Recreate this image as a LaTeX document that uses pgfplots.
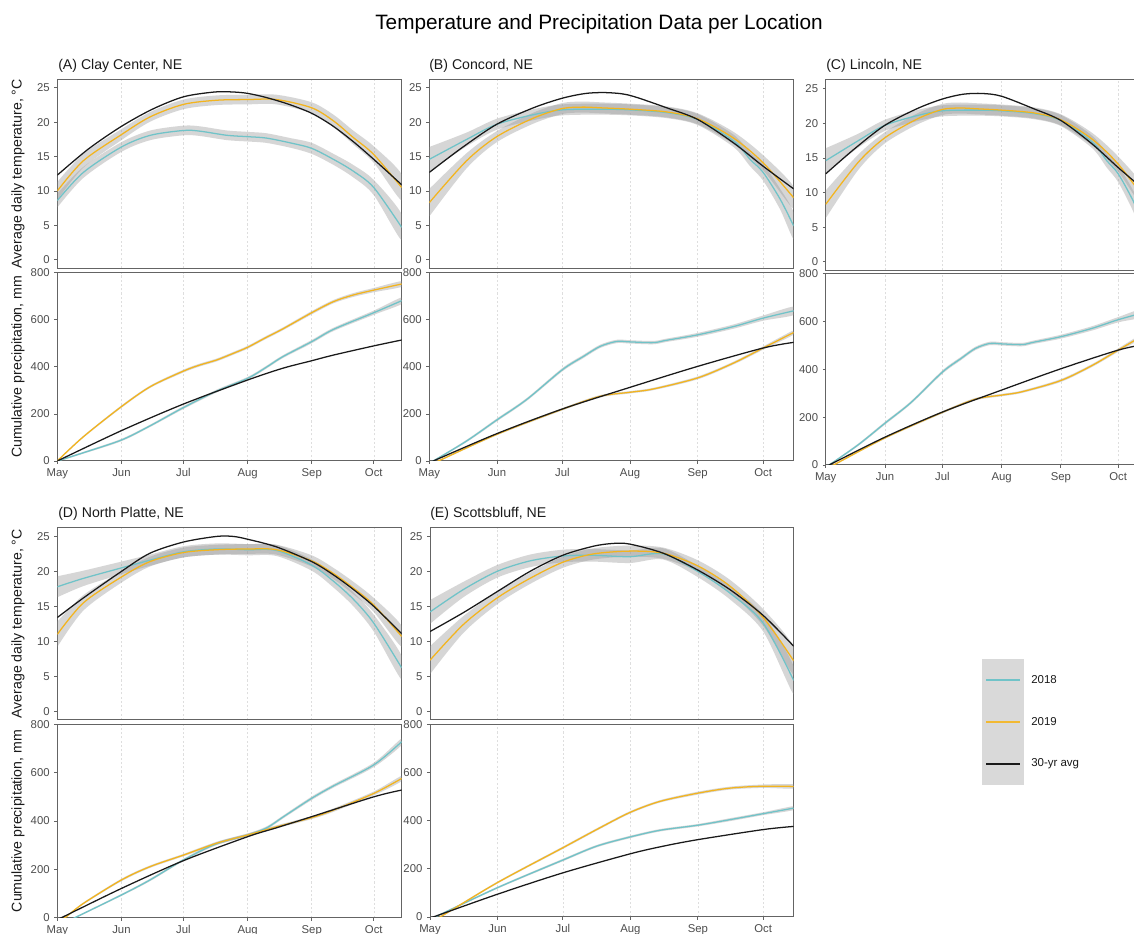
\documentclass[border=0pt]{standalone}
\usepackage{fontspec}
\setmainfont{Liberation Sans}
\usepackage{pgfplots}
\pgfplotsset{compat=1.18}
\usepackage{pgfplotstable}

\definecolor{c18}{RGB}{112,195,200}
\definecolor{c19}{RGB}{243,180,30}
\definecolor{legorange}{RGB}{242,185,50}
\definecolor{c30}{RGB}{26,26,26}
\definecolor{framec}{RGB}{100,100,100}
\definecolor{tickc}{RGB}{77,77,77}
\definecolor{gridc}{RGB}{222,222,222}
\definecolor{bandc}{RGB}{153,153,153}
\definecolor{legbg}{RGB}{217,217,217}
\definecolor{txt}{RGB}{26,26,26}

% ---------------- data: d = days since May 1, y = value, w = half-width of grey band ----------------
\pgfplotstableread{
d y w
0 8.6 1.0
12.6 12.7 0.8
31 16.4 0.7
45 18.1 0.7
61 18.8 0.7
69 18.7 0.7
82 18.1 0.7
92 17.9 0.7
101 17.7 0.7
112.6 17.0 0.7
123 16.2 0.8
133.5 14.6 0.8
143 12.9 0.9
153 10.5 1.1
166.5 4.7 1.9
}\ATa
\pgfplotstableread{
d y w
0 10.0 1.3
12.6 14.4 1.0
31 18.2 0.8
45 20.8 0.7
61 22.6 0.7
77 23.2 0.7
92 23.3 0.7
106 23.3 0.7
123 22.1 0.8
133.5 20.2 0.9
143 17.8 1.0
153 15.3 1.2
166.5 10.5 1.9
}\ATb
\pgfplotstableread{
d y
0 12.3
15 16.1
31 19.4
46 21.9
61 23.7
76 24.4
85 24.4
92 24.2
101 23.6
112 22.6
123 21.3
133 19.5
143 17.2
153 14.6
166.5 10.9
}\ATc
\pgfplotstableread{
d y w
0 0 3
12.6 35 4
31 89 5
45 150 5
61 227 6
77 297 6
92 351 6
101 398 6
109 443 6
123 507 7
133.5 559 7
153 630 9
166.5 681 14
}\APa
\pgfplotstableread{
d y w
0 0 3
12.6 103 4
31 231 5
45 316 5
61 382 6
69 408 6
77 429 6
85 457 6
92 483 6
101 525 6
109 561 6
123 630 7
133.5 677 7
143 705 8
153 726 9
166.5 752 12
}\APb
\pgfplotstableread{
d y
0 0
31 129
61 242
92 344
109 394
123 426
133.5 450
153 489
166.5 514
}\APc
\pgfplotstableread{
d y w
0 14.6 1.8
17.1 17.5 1.0
30.9 19.7 0.8
47.7 21.1 0.8
61 21.8 0.8
78.3 21.9 0.8
92 21.8 0.8
108.8 21.4 0.8
123 20.4 0.8
139.4 17.3 0.9
147 14.6 1.0
153 12.7 1.2
160.8 8.8 1.5
167 4.9 1.9
}\BTa
\pgfplotstableread{
d y w
0 8.3 2.0
17.1 14.4 1.1
30.9 17.9 0.8
47.7 20.6 0.8
61 22.0 0.8
70.6 22.2 0.8
78.3 22.1 0.8
92 21.9 0.8
108.8 21.5 0.8
123 20.5 0.8
139.4 17.7 0.9
153 14.1 1.1
167 9.0 1.6
}\BTb
\pgfplotstableread{
d y
0 12.7
15 16.3
30.9 19.7
47.7 22.1
61 23.5
72 24.2
82 24.3
92 23.9
108.8 22.1
123 20.4
139.4 17.0
153 13.6
167 10.3
}\BTc
\pgfplotstableread{
d y w
0 -7 3
1.8 0 3
17.1 85 5
30.9 174 6
44.6 261 6
61 388 7
70.6 444 7
78.3 487 7
85.9 508 7
92 506 7
102.7 503 7
108.8 513 7
123 536 8
139.4 571 9
153 607 11
167 638 18
}\BPa
\pgfplotstableread{
d y w
0 -15 3
4.1 0 3
30.9 113 4
61 220 5
78.3 275 5
92 292 5
102.7 306 5
123 353 6
139.4 416 6
153 480 7
167 546 9
}\BPb
\pgfplotstableread{
d y
0 -7
1.8 0
30.9 116
61 221
92 313
123 402
153 480
167 504
}\BPc
\pgfplotstableread{
d y w
0 17.8 1.5
12.6 19.0 1.1
31 20.5 0.9
44.8 21.6 0.8
61 22.8 0.8
77 23.2 0.8
92 23.1 0.8
106 23.0 0.8
123 20.9 0.8
133.5 18.6 0.9
143.2 16.0 1.0
153 12.6 1.2
166.5 6.2 1.7
}\DTa
\pgfplotstableread{
d y w
0 11.0 1.8
12.6 15.5 1.1
31 19.2 0.8
44.8 21.4 0.7
61 22.7 0.7
77 23.1 0.7
92 23.2 0.7
106 23.1 0.7
123 21.5 0.8
133.5 19.7 0.8
143.2 17.6 0.9
153 15.2 1.0
166.5 10.7 1.5
}\DTb
\pgfplotstableread{
d y
0 13.4
12.6 16.2
31 20.0
44.8 22.6
61 24.2
77 25.0
85 25.0
92 24.6
106 23.5
123 21.4
133.5 19.5
143.2 17.4
153 15.0
166.5 11.1
}\DTc
\pgfplotstableread{
d y w
4 -18 3
8.5 0 3
31 94 4
44.8 156 5
61 239 5
77 306 6
92 342 6
101.3 372 6
109.4 418 6
123 494 7
133.5 545 7
153 632 9
166.5 728 14
}\DPa
\pgfplotstableread{
d y w
0 -14 3
3.7 0 3
12.6 59 4
31 156 5
44.8 211 5
61 259 5
77 308 6
92 342 6
106 376 6
123 414 6
133.5 445 7
153 514 8
166.5 576 11
}\DPb
\pgfplotstableread{
d y
0 -8
2 0
31 121
61 236
92 335
106 372
123 418
153 500
166.5 528
}\DPc
\pgfplotstableread{
d y w
0 14.2 1.7
15.3 17.4 1.1
30.8 20.0 0.9
45.9 21.5 0.9
60.9 22.2 0.9
75 22.3 0.9
91.8 22.1 0.9
107.1 22.5 0.8
122.9 20.0 0.8
137.7 16.9 0.9
153 12.6 1.2
167 4.4 2.0
}\ETa
\pgfplotstableread{
d y w
0 7.3 2.0
15.3 12.4 1.2
30.8 16.2 0.9
45.9 19.0 0.8
60.9 21.3 0.8
75 22.5 0.8
91.8 22.9 0.8
107.1 22.6 0.8
122.9 20.8 0.8
137.7 17.9 0.9
153 13.4 1.2
167 7.2 2.0
}\ETb
\pgfplotstableread{
d y
0 11.4
15.3 14.1
30.8 17.1
45.9 20.0
60.9 22.3
75 23.6
84.2 24.0
91.8 23.9
107.1 22.6
122.9 20.2
137.7 17.4
153 13.7
167 9.3
}\ETc
\pgfplotstableread{
d y w
0 -9 3
2.3 0 3
30.8 121 4
60.9 236 5
76.5 294 5
91.8 332 5
105.6 360 5
122.9 381 5
137.7 404 6
153 429 6
167 452 8
}\EPa
\pgfplotstableread{
d y w
0 -17 3
4.6 0 3
30.8 142 4
60.9 287 5
76.5 363 5
91.8 434 5
105.6 480 5
122.9 514 6
137.7 535 6
153 543 7
167 542 9
}\EPb
\pgfplotstableread{
d y
0 -5
1.5 0
30.8 94
60.9 183
91.8 262
107.1 294
122.9 321
153 363
167 376
}\EPc

% band outline tables: upper edge forward, then lower edge backward
\newcommand{\mkband}[3]{%
  \pgfplotstablesort[sort key=d, sort cmp=float <]{#2}{#1}%
  \pgfplotstablesort[sort key=d, sort cmp=float >]{#3}{#1}%
  \pgfplotstablecreatecol[create col/expr={\thisrow{y}+\thisrow{w}}]{b}{#2}%
  \pgfplotstablecreatecol[create col/expr={\thisrow{y}-\thisrow{w}}]{b}{#3}%
  \pgfplotstablevertcat{#2}{#3}%
}
\mkband{\ATa}{\BandATa}{\RevATa}
\mkband{\ATb}{\BandATb}{\RevATb}
\mkband{\APa}{\BandAPa}{\RevAPa}
\mkband{\APb}{\BandAPb}{\RevAPb}
\mkband{\BTa}{\BandBTa}{\RevBTa}
\mkband{\BTb}{\BandBTb}{\RevBTb}
\mkband{\BPa}{\BandBPa}{\RevBPa}
\mkband{\BPb}{\BandBPb}{\RevBPb}
\mkband{\DTa}{\BandDTa}{\RevDTa}
\mkband{\DTb}{\BandDTb}{\RevDTb}
\mkband{\DPa}{\BandDPa}{\RevDPa}
\mkband{\DPb}{\BandDPb}{\RevDPb}
\mkband{\ETa}{\BandETa}{\RevETa}
\mkband{\ETb}{\BandETb}{\RevETb}
\mkband{\EPa}{\BandEPa}{\RevEPa}
\mkband{\EPb}{\BandEPb}{\RevEPb}

\newcommand{\ticksize}{\fontsize{8.5}{10}\selectfont}

\pgfplotsset{
  basestyle/.style={
    scale only axis, anchor=south west,
    xmin=0,
    axis line style={draw=framec, line width=0.75pt},
    tick pos=left,
    tick align=outside,
    major tick length=2.2pt,
    tick style={draw=framec, line width=0.6pt},
    xtick={0,31,61,92,123,153},
    xmajorgrids,
    major grid style={draw=gridc, line width=0.4pt, dash pattern=on 1.6pt off 1.6pt},
    tick label style={font=\ticksize, text=tickc},
    /pgf/number format/assume math mode=true,
  },
  tempstyle/.style={basestyle, ymin=-1.25, ymax=26.25, ytick={0,5,10,15,20,25},
    xticklabels={}, xtick style={draw=none}},
  precstyle/.style={basestyle, ymin=0, ymax=800, ytick={0,200,400,600,800},
    xticklabels={May,Jun,Jul,Aug,Sep,Oct}},
  bandfill/.style={fill=bandc, fill opacity=0.4, draw=none, smooth, no markers},
  line18/.style={draw=c18, line width=0.95pt, smooth, no markers},
  line19/.style={draw=c19, line width=0.95pt, smooth, no markers},
  line30/.style={draw=c30, line width=0.95pt, smooth, no markers},
}

\newcommand{\threecurves}[5]{% #1 2018, #2 2019, #3 30yr, #4 band 2018, #5 band 2019
  \addplot[bandfill, forget plot] table[x=d, y=b] {#4};
  \addplot[bandfill, forget plot] table[x=d, y=b] {#5};
  \addplot[line18] table[x=d,y=y] {#1};
  \addplot[line19] table[x=d,y=y] {#2};
  \addplot[line30] table[x=d,y=y] {#3};
}

\begin{document}
\begin{tikzpicture}
\fill[white] (0,0) rectangle (850.5pt,700.5pt);
% ---- legend ----
\fill[legbg] (736.5pt,111.75pt) rectangle (768pt,206.25pt);
\fill[color=c18] (739.5pt,189.75pt) rectangle (765pt,191.25pt);
\fill[color=legorange] (739.5pt,158.45pt) rectangle (765pt,159.95pt);
\fill[color=c30] (739.5pt,126.75pt) rectangle (765pt,128.25pt);
\begin{scope}[every node/.style={anchor=west, font=\fontsize{8.6}{10}\selectfont, text=txt, inner sep=0pt}]
\node at (773.25pt,190.5pt) {2018};
\node at (773.25pt,159.2pt) {2019};
\node at (773.25pt,127.5pt) {30-yr avg};
\end{scope}

\begin{scope}
\clip (0,0) rectangle (850.5pt,700.5pt);

% ---- Panel A ----
\begin{axis}[tempstyle, at={(42.975pt,499.275pt)}, width=258.3pt, height=141.75pt, xmax=166.5]
\threecurves{\ATa}{\ATb}{\ATc}{\BandATa}{\BandATb}
\end{axis}
\begin{axis}[precstyle, at={(42.975pt,354.75pt)}, width=258.3pt, height=141.225pt, xmax=166.5]
\threecurves{\APa}{\APb}{\APc}{\BandAPa}{\BandAPb}
\end{axis}
% ---- Panel B ----
\begin{axis}[tempstyle, at={(321.975pt,499.275pt)}, width=273.3pt, height=141.75pt, xmax=167]
\threecurves{\BTa}{\BTb}{\BTc}{\BandBTa}{\BandBTb}
\end{axis}
\begin{axis}[precstyle, at={(321.975pt,354.75pt)}, width=273.3pt, height=141.225pt, xmax=167]
\threecurves{\BPa}{\BPb}{\BPc}{\BandBPa}{\BandBPb}
\end{axis}
% ---- Panel C ----
\begin{axis}[tempstyle, at={(619.275pt,497.625pt)}, width=239.475pt, height=142.875pt, xmax=167]
\threecurves{\BTa}{\BTb}{\BTc}{\BandBTa}{\BandBTb}
\end{axis}
\begin{axis}[precstyle, at={(619.275pt,351.75pt)}, width=239.475pt, height=143.625pt, xmax=167]
\threecurves{\BPa}{\BPb}{\BPc}{\BandBPa}{\BandBPb}
\end{axis}
% ---- Panel D ----
\begin{axis}[tempstyle, at={(42.975pt,160.5pt)}, width=258.3pt, height=144.225pt, xmax=166.5]
\threecurves{\DTa}{\DTb}{\DTc}{\BandDTa}{\BandDTb}
\end{axis}
\begin{axis}[precstyle, at={(42.975pt,12.225pt)}, width=258.3pt, height=145.05pt, xmax=166.5]
\threecurves{\DPa}{\DPb}{\DPc}{\BandDPa}{\BandDPb}
\end{axis}
% ---- Panel E ----
\begin{axis}[tempstyle, at={(322.5pt,160.5pt)}, width=272.775pt, height=144.225pt, xmax=167]
\threecurves{\ETa}{\ETb}{\ETc}{\BandETa}{\BandETb}
\end{axis}
\begin{axis}[precstyle, at={(322.5pt,12.75pt)}, width=272.775pt, height=144.525pt, xmax=167]
\threecurves{\EPa}{\EPb}{\EPc}{\BandEPa}{\BandEPb}
\end{axis}
\end{scope}

% ---- titles ----
\node[anchor=base, font=\fontsize{15.6}{18}\selectfont, text=black] at (449.25pt,678.5pt) {Temperature and Precipitation Data per Location};
\begin{scope}[every node/.style={anchor=base west, font=\fontsize{10.6}{12}\selectfont, text=txt, inner sep=0pt}]
\node at (43.5pt,648pt) {(A) Clay Center, NE};
\node at (321.75pt,648pt) {(B) Concord, NE};
\node at (619.5pt,648pt) {(C) Lincoln, NE};
\node at (43.5pt,312pt) {(D) North Platte, NE};
\node at (322.5pt,312pt) {(E) Scottsbluff, NE};
\end{scope}
% ---- y labels ----
\begin{scope}[every node/.style={rotate=90, font=\fontsize{10.6}{12}\selectfont, text=txt, inner sep=0pt}]
\node at (13.5pt,570.15pt) {Average daily temperature, °C};
\node at (13.5pt,425.36pt) {Cumulative precipitation, mm};
\node at (13.5pt,232.6pt) {Average daily temperature, °C};
\node at (13.5pt,84.75pt) {Cumulative precipitation, mm};
\end{scope}
\pgfresetboundingbox
\useasboundingbox (0,0) rectangle (850.5pt,700.5pt);
\end{tikzpicture}
\end{document}
